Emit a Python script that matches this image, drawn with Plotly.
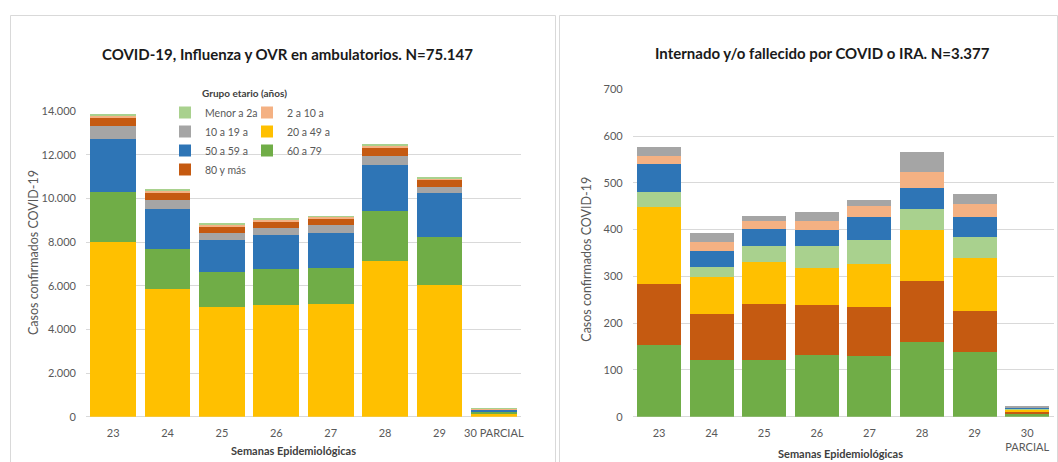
import plotly.graph_objects as go

# Epidemiological weeks
weeks_amb = ["23", "24", "25", "26", "27", "28", "29", "30 PARCIAL"]
weeks_int = ["23", "24", "25", "26", "27", "28", "29", "30<br>PARCIAL"]

# Ambulatory confirmed cases by age group
amb_20_49 = [8000, 5850, 5010, 5120, 5160, 7150, 6050, 150]
amb_60_79 = [2280, 1820, 1600, 1630, 1640, 2270, 2170, 60]
amb_50_59 = [2450, 1840, 1470, 1570, 1630, 2110, 2010, 100]
amb_10_19 = [590, 420, 320, 320, 350, 430, 280, 20]
amb_80 = [380, 300, 300, 310, 310, 380, 330, 20]
amb_2_10 = [90, 110, 80, 70, 60, 70, 60, 10]
amb_menor = [60, 60, 50, 50, 30, 50, 50, 10]

# Hospitalised / deceased cases by age group
int_60_79 = [153, 121, 122, 132, 130, 160, 139, 5]
int_80 = [130, 99, 118, 106, 105, 130, 87, 6]
int_20_49 = [165, 78, 91, 80, 92, 109, 114, 3]
int_menor = [32, 23, 34, 46, 51, 45, 44, 3]
int_50_59 = [60, 34, 36, 36, 49, 46, 42, 1]
int_2_10 = [18, 19, 18, 19, 24, 34, 28, 1]
int_10_19 = [19, 18, 11, 18, 12, 42, 23, 2]

COLORS = {
    "Menor a 2a": "#A9D18E",
    "2 a 10 a": "#F4B183",
    "10 a 19 a": "#A5A5A5",
    "20 a 49 a": "#FFC000",
    "50 a 59 a": "#2E75B6",
    "60 a 79": "#70AD47",
    "80 y más": "#C55A11",
}
# legend placement: (legend id, rank)
LEGEND_POS = {
    "Menor a 2a": ("legend", 1),
    "2 a 10 a": ("legend2", 2),
    "10 a 19 a": ("legend", 3),
    "20 a 49 a": ("legend2", 4),
    "50 a 59 a": ("legend", 5),
    "60 a 79": ("legend2", 6),
    "80 y más": ("legend", 7),
}

FONT = "Lato, 'Open Sans', sans-serif"
W, H = 1058, 462


def px(x):
    return x / W


def py(y):
    return (H - y) / H


fig = go.Figure()

# Left chart: stacked from bottom to top
amb_stack = [
    ("20 a 49 a", amb_20_49),
    ("60 a 79", amb_60_79),
    ("50 a 59 a", amb_50_59),
    ("10 a 19 a", amb_10_19),
    ("80 y más", amb_80),
    ("2 a 10 a", amb_2_10),
    ("Menor a 2a", amb_menor),
]
for name, vals in amb_stack:
    leg, rank = LEGEND_POS[name]
    fig.add_trace(go.Bar(
        x=weeks_amb, y=vals, name=name, marker_color=COLORS[name],
        marker_line_width=0, legend=leg, legendrank=rank,
        xaxis="x", yaxis="y",
    ))

# Right chart: stacked from bottom to top
int_stack = [
    ("60 a 79", int_60_79),
    ("80 y más", int_80),
    ("20 a 49 a", int_20_49),
    ("Menor a 2a", int_menor),
    ("50 a 59 a", int_50_59),
    ("2 a 10 a", int_2_10),
    ("10 a 19 a", int_10_19),
]
for name, vals in int_stack:
    fig.add_trace(go.Bar(
        x=weeks_int, y=vals, name=name, marker_color=COLORS[name],
        marker_line_width=0, showlegend=False,
        xaxis="x2", yaxis="y2",
    ))

tick_font = dict(family=FONT, size=11, color="#595959")
grid = "#D9D9D9"

fig.update_layout(
    width=W, height=H,
    margin=dict(l=0, r=0, t=0, b=0, autoexpand=False),
    paper_bgcolor="white", plot_bgcolor="white",
    barmode="stack", bargap=0.16,
    separators=",.",
    font=dict(family=FONT, color="#595959"),
    xaxis=dict(domain=[px(86), px(521)], anchor="y", type="category",
               categoryorder="array", categoryarray=weeks_amb,
               showgrid=False, showline=False, ticks="", automargin=False,
               tickfont=tick_font, ticklabelstandoff=8),
    yaxis=dict(domain=[py(416.7), py(111)], anchor="x", range=[0, 14000],
               tickvals=list(range(0, 14001, 2000)), tickformat=",d",
               showgrid=True, gridcolor=grid, gridwidth=1,
               zeroline=True, zerolinecolor=grid, zerolinewidth=1,
               showline=False, ticks="", tickfont=tick_font, automargin=False,
               ticklabelstandoff=9),
    xaxis2=dict(domain=[px(632.7), px(1053.5)], anchor="y2", type="category",
                categoryorder="array", categoryarray=weeks_int,
                showgrid=False, showline=False, ticks="", automargin=False,
                tickfont=tick_font, ticklabelstandoff=8),
    yaxis2=dict(domain=[py(416.7), py(89.3)], anchor="x2", range=[0, 700],
                tickvals=list(range(0, 701, 100)),
                showgrid=True, gridcolor=grid, gridwidth=1,
                zeroline=True, zerolinecolor=grid, zerolinewidth=1,
                showline=False, ticks="", tickfont=tick_font, automargin=False,
                ticklabelstandoff=9),
    legend=dict(x=px(165), y=py(98), xanchor="left", yanchor="top",
                orientation="v", traceorder="normal", tracegroupgap=0,
                bgcolor="rgba(0,0,0,0)", borderwidth=0, itemclick=False,
                font=dict(family=FONT, size=10.5, color="#595959")),
    legend2=dict(x=px(247), y=py(98), xanchor="left", yanchor="top",
                 orientation="v", traceorder="normal", tracegroupgap=0,
                 bgcolor="rgba(0,0,0,0)", borderwidth=0, itemclick=False,
                 font=dict(family=FONT, size=10.5, color="#595959")),
)

# Panel frames and the white area behind the legend
fig.add_shape(type="rect", xref="paper", yref="paper",
              x0=px(10.5), x1=px(555.5), y0=-0.05, y1=py(15.5),
              line=dict(color="#D9D9D9", width=1), fillcolor="rgba(0,0,0,0)",
              layer="below")
fig.add_shape(type="rect", xref="paper", yref="paper",
              x0=px(559.5), x1=px(1057.5), y0=-0.05, y1=py(15.5),
              line=dict(color="#D9D9D9", width=1), fillcolor="rgba(0,0,0,0)",
              layer="below")
fig.add_shape(type="rect", xref="paper", yref="paper",
              x0=px(167), x1=px(347), y0=py(178), y1=py(86),
              line=dict(width=0), fillcolor="white", layer="between")

annotations = [
    dict(text="<b>COVID-19, Influenza y OVR en ambulatorios. N=75.147</b>",
         x=px(287.5), y=py(54), font=dict(size=15, color="#1a1a1a")),
    dict(text="<b>Internado y/o fallecido por COVID o IRA. N=3.377</b>",
         x=px(822), y=py(53), font=dict(size=15, color="#1a1a1a")),
    dict(text="<b>Grupo etario (años)</b>",
         x=px(244.5), y=py(93), font=dict(size=10, color="#404040")),
    dict(text="Casos confirmados COVID-19", textangle=-90,
         x=px(33), y=py(253), font=dict(size=12.5, color="#595959")),
    dict(text="Casos confirmados COVID-19", textangle=-90,
         x=px(585.7), y=py(259), font=dict(size=12.5, color="#595959")),
    dict(text="<b>Semanas Epidemiológicas</b>",
         x=px(293.7), y=py(450.7), font=dict(size=11, color="#404040")),
    dict(text="<b>Semanas Epidemiológicas</b>",
         x=px(840.5), y=py(453), font=dict(size=11, color="#404040")),
]
for a in annotations:
    fig.add_annotation(xref="paper", yref="paper", showarrow=False,
                       xanchor="center", yanchor="middle",
                       font_family=FONT, **{k: v for k, v in a.items()})

fig.write_html("out.html")
